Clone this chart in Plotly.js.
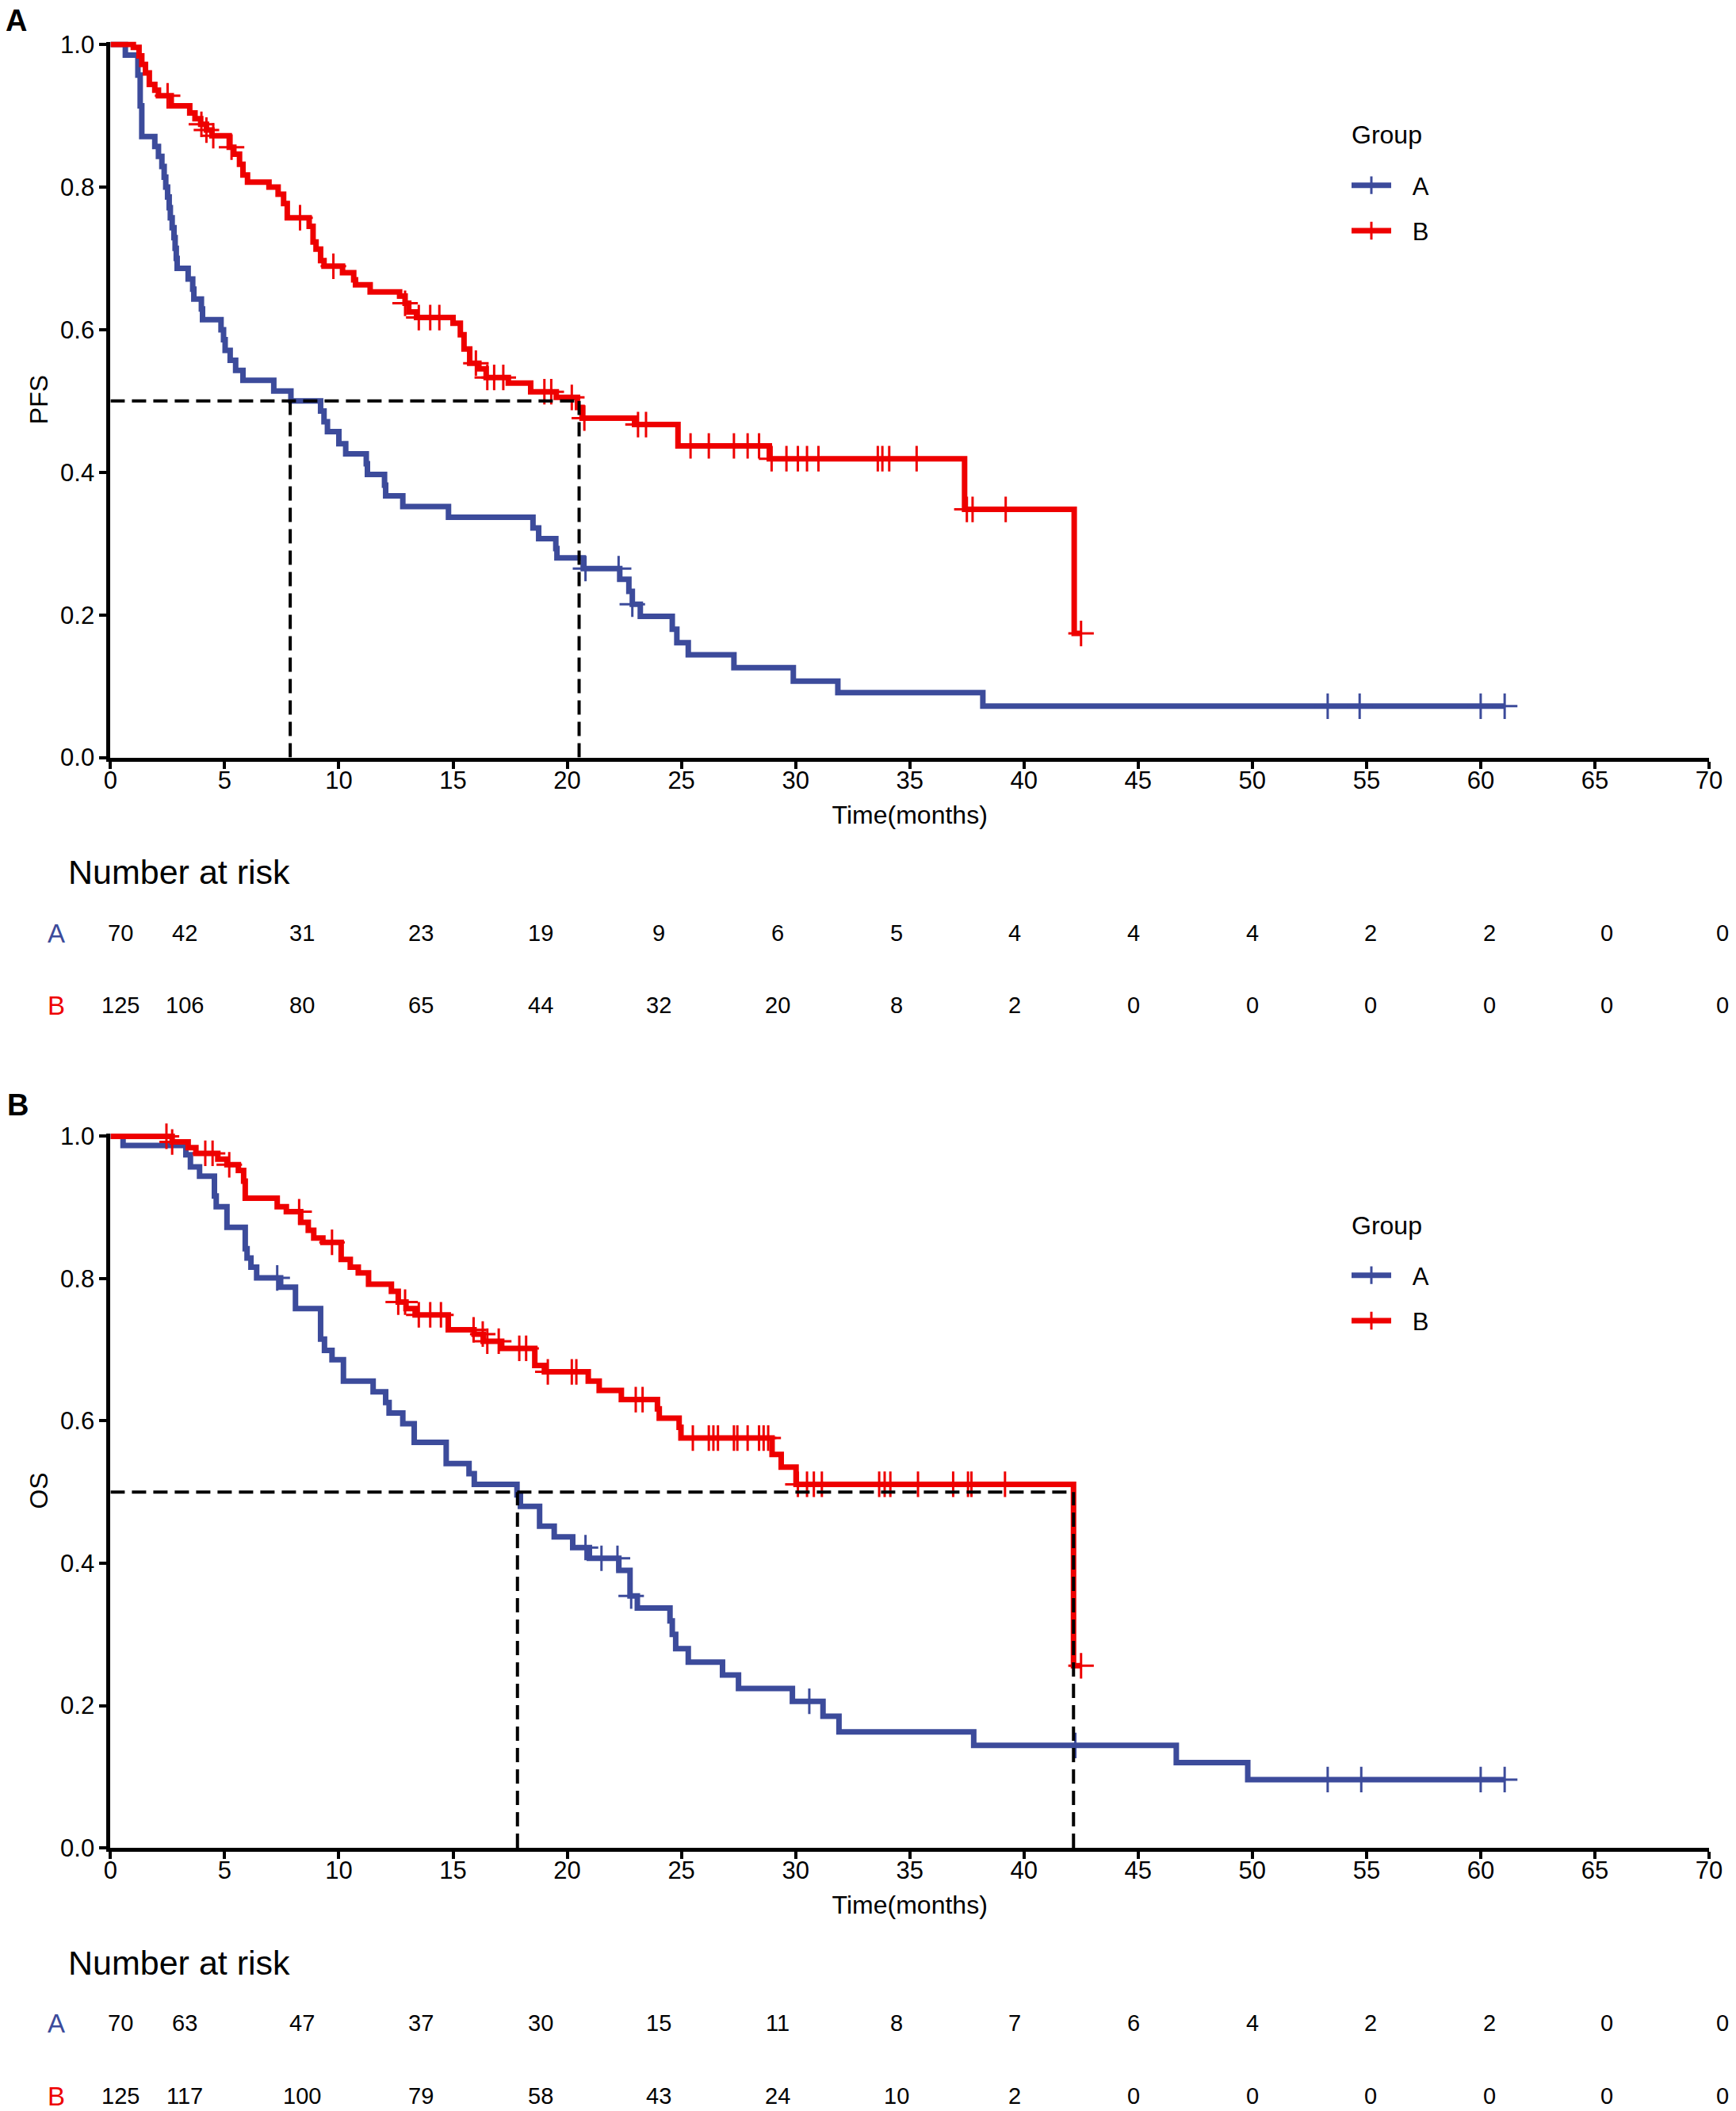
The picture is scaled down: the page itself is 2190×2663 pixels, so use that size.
<!DOCTYPE html>
<html><head><meta charset="utf-8">
<script src="https://cdn.plot.ly/plotly-3.0.1.min.js"></script>
<style>html,body{margin:0;padding:0;background:#fff}#chart{width:2190px;height:2663px}</style>
</head><body><div id="chart"></div>
<script>
// ---------------- DATA ----------------
const groups = ["A", "B"];
const legendTitle = "Group";
const riskHeader = "Number at risk";

// PFS, group A: event times (months) and survival after each event
const pfsA_t = [0.65,1.2,1.3,1.37,1.94,2.1,2.25,2.35,2.42,2.5,2.57,2.62,2.7,2.78,2.83,2.88,2.92,3.4,3.6,3.65,3.98,4.03,4.84,4.95,5.02,5.24,5.48,5.8,7.15,7.9,9.2,9.35,9.5,10.0,10.3,11.2,11.25,12.0,12.05,12.8,14.8,18.5,18.75,19.5,19.55,20.7,22.3,22.7,22.85,23.2,24.6,24.8,25.3,27.3,29.9,31.85,38.2];
const pfsA_s = [0.985,0.957,0.914,0.871,0.857,0.843,0.829,0.814,0.80,0.786,0.771,0.757,0.743,0.729,0.714,0.70,0.686,0.671,0.657,0.643,0.629,0.614,0.60,0.586,0.571,0.557,0.543,0.529,0.514,0.50,0.486,0.471,0.457,0.440,0.426,0.412,0.397,0.382,0.367,0.352,0.337,0.322,0.307,0.293,0.280,0.265,0.250,0.233,0.215,0.198,0.180,0.161,0.144,0.126,0.107,0.091,0.072];
const pfsA_cens = [20.8,22.25,22.85,53.3,54.7,60.0,61.05];

// PFS, group B
const pfsB_t = [1.0,1.25,1.37,1.53,1.7,1.94,2.1,2.66,3.47,3.7,3.95,4.2,4.44,5.2,5.4,5.65,5.8,6.0,6.94,7.34,7.58,7.74,8.7,8.87,9.0,9.2,9.35,10.16,10.65,10.73,11.37,12.66,12.9,13.06,13.4,15.0,15.32,15.48,15.73,16.13,16.45,17.42,18.4,19.52,20.45,20.65,22.95,24.85,28.85,37.4,42.2];
const pfsB_s = [0.996,0.984,0.972,0.96,0.944,0.936,0.928,0.914,0.904,0.896,0.888,0.88,0.872,0.856,0.846,0.832,0.817,0.807,0.80,0.79,0.777,0.757,0.745,0.723,0.713,0.697,0.689,0.68,0.67,0.663,0.653,0.647,0.637,0.625,0.617,0.609,0.593,0.573,0.553,0.545,0.533,0.525,0.513,0.505,0.491,0.476,0.467,0.437,0.419,0.348,0.174];
const pfsB_cens = [2.5,3.98,4.2,4.5,5.3,8.3,9.76,12.9,13.5,14.0,14.4,16.0,16.5,16.8,17.2,19.0,19.3,20.2,20.75,23.1,23.45,25.4,26.2,27.3,27.9,28.4,28.95,29.6,30.1,30.5,31.0,33.6,33.8,34.1,35.3,37.5,37.75,39.2,42.5];

// OS, group A
const osA_t = [0.55,3.3,3.5,3.9,4.55,4.63,5.1,5.9,5.98,6.15,6.4,7.45,8.1,9.2,9.37,9.7,10.2,11.5,12.05,12.2,12.8,13.3,14.7,15.7,15.93,17.8,17.95,18.79,19.43,20.24,20.97,22.26,22.75,23.07,24.5,24.6,24.75,25.3,26.8,27.5,29.86,31.2,31.9,37.8,46.67,49.8];
const osA_s = [0.987,0.974,0.957,0.944,0.916,0.901,0.872,0.842,0.829,0.816,0.801,0.788,0.758,0.715,0.699,0.686,0.656,0.641,0.626,0.611,0.596,0.57,0.54,0.526,0.511,0.496,0.48,0.452,0.437,0.422,0.407,0.39,0.354,0.337,0.319,0.30,0.28,0.261,0.243,0.224,0.206,0.185,0.163,0.144,0.12,0.096];
const osA_cens = [7.3,20.8,21.5,22.2,22.8,30.6,42.25,53.3,54.77,60.0,61.05];

// OS, group B
const osB_t = [2.7,3.4,3.74,4.7,5.1,5.6,5.83,5.9,7.3,7.7,8.33,8.66,8.9,9.3,10.1,10.5,10.85,11.3,12.3,12.6,12.94,13.34,14.79,15.92,16.32,17.13,18.58,19.0,20.92,21.4,22.37,23.95,24.03,24.9,24.98,28.97,29.37,30.02,42.17];
const osB_s = [0.992,0.984,0.976,0.968,0.96,0.952,0.937,0.913,0.901,0.894,0.879,0.868,0.857,0.851,0.827,0.816,0.808,0.792,0.782,0.767,0.758,0.749,0.728,0.722,0.712,0.702,0.678,0.669,0.656,0.643,0.63,0.617,0.604,0.591,0.576,0.553,0.535,0.511,0.256];
const osB_cens = [2.45,2.7,4.15,4.47,5.2,8.26,9.7,12.6,12.9,13.5,14.0,14.47,15.9,16.3,16.5,17.0,17.9,18.2,19.15,20.2,20.4,23.0,23.3,25.5,26.2,26.4,26.6,27.3,27.45,27.9,28.4,28.6,28.8,30.1,30.5,30.8,31.15,33.66,33.9,34.15,35.36,36.9,37.55,37.7,39.17,42.5];

// Median survival times (dashed reference lines)
const pfsMedians = [7.87, 20.52];
const osMedians = [17.82, 42.17];

// Number at risk tables
const riskPFS_A = [70,42,31,23,19,9,6,5,4,4,4,2,2,0,0];
const riskPFS_B = [125,106,80,65,44,32,20,8,2,0,0,0,0,0,0];
const riskOS_A  = [70,63,47,37,30,15,11,8,7,6,4,2,2,0,0];
const riskOS_B  = [125,117,100,79,58,43,24,10,2,0,0,0,0,0,0];

// ---------------- LAYOUT CONSTANTS ----------------
const W = 2190, H = 2663;
const BLUE = "#3C4B9B", RED = "#EE0000";
const FONT = "Liberation Sans, Arial, Helvetica, sans-serif";
const px = v => v / W;           // pixel -> paper x
const py = v => 1 - v / H;       // pixel -> paper y
const riskColsPx = [152,233,381,531,682,831,981,1131,1280,1430,1580,1729,1879,2027,2173];

function stepXY(t, s, cens) {
  const end = Math.max(t[t.length - 1], cens.length ? cens[cens.length - 1] : 0);
  return { x: [0].concat(t, [end]), y: [1].concat(s, [s[s.length - 1]]) };
}
function survAt(t, s, time) {
  let v = 1;
  for (let i = 0; i < t.length; i++) { if (t[i] <= time) v = s[i]; }
  return v;
}

const traces = [];
function addPanel(ax, ay, legendId, curves) {
  curves.forEach(c => {
    const st = stepXY(c.t, c.s, c.cens);
    traces.push({
      x: st.x, y: st.y, xaxis: ax, yaxis: ay, type: "scatter", mode: "lines",
      line: { color: c.color, width: 7, shape: "hv" }, showlegend: false, hoverinfo: "skip"
    });
    traces.push({
      x: c.cens, y: c.cens.map(tt => survAt(c.t, c.s, tt)), xaxis: ax, yaxis: ay,
      type: "scatter", mode: "markers", cliponaxis: false,
      marker: { symbol: "cross-thin", size: 23, color: c.color, line: { color: c.color, width: 3 } },
      showlegend: false, hoverinfo: "skip"
    });
    traces.push({
      x: [null], y: [null], xaxis: ax, yaxis: ay, type: "scatter", mode: "lines+markers",
      name: "\u2002\u2009" + c.name, legend: legendId, legendgroup: legendId + c.name,
      line: { color: c.color, width: 7 },
      marker: { symbol: "cross-thin", size: 16, color: c.color, line: { color: c.color, width: 3 } }
    });
  });
}
addPanel("x", "y", "legend", [
  { name: groups[0], t: pfsA_t, s: pfsA_s, cens: pfsA_cens, color: BLUE },
  { name: groups[1], t: pfsB_t, s: pfsB_s, cens: pfsB_cens, color: RED }
]);
addPanel("x2", "y2", "legend2", [
  { name: groups[0], t: osA_t, s: osA_s, cens: osA_cens, color: BLUE },
  { name: groups[1], t: osB_t, s: osB_s, cens: osB_cens, color: RED }
]);

function xAxis(anchor) {
  return {
    domain: [px(139.4), px(2156)], range: [0, 70], dtick: 5, tick0: 0, anchor: anchor,
    showline: true, linecolor: "#000", linewidth: 5, ticks: "outside", ticklen: 9, tickwidth: 4,
    tickcolor: "#000", showgrid: false, zeroline: false, fixedrange: true, ticklabelstandoff: -12,
    tickfont: { family: FONT, size: 31, color: "#000" },
    title: { text: "Time(months)", font: { family: FONT, size: 32, color: "#000" }, standoff: 17 }
  };
}
function yAxis(top0, bottom0, anchor, title) {
  // top0 = pixel of 1.0, bottom0 = pixel of 0.0
  const per = (bottom0 - top0);
  const topPx = top0 - 0.004 * per;
  return {
    domain: [py(bottom0), py(topPx)], range: [0, 1.004], tickvals: [0, 0.2, 0.4, 0.6, 0.8, 1.0],
    tickformat: ".1f", anchor: anchor,
    showline: true, linecolor: "#000", linewidth: 5, ticks: "outside", ticklen: 9, tickwidth: 4,
    tickcolor: "#000", showgrid: false, zeroline: false, fixedrange: true,
    tickfont: { family: FONT, size: 31, color: "#000" },
    title: { text: title, font: { family: FONT, size: 32, color: "#000" }, standoff: 7 }
  };
}

const shapes = [];
function medianShapes(xr, yr, meds) {
  const dash = { color: "#000", width: 4, dash: "18px,9px" };
  const maxMed = Math.max.apply(null, meds);
  shapes.push({ type: "line", xref: xr, yref: yr, x0: 0, x1: maxMed, y0: 0.5, y1: 0.5, line: dash, layer: "above" });
  meds.forEach(m => shapes.push({ type: "line", xref: xr, yref: yr, x0: m, x1: m, y0: 0, y1: 0.5, line: dash, layer: "above" }));
}
medianShapes("x", "y", pfsMedians);
medianShapes("x2", "y2", osMedians);

const annotations = [];
function txt(text, xPx, yPx, size, color, opts) {
  annotations.push(Object.assign({
    text: text, x: px(xPx), y: py(yPx), xref: "paper", yref: "paper", showarrow: false,
    xanchor: "center", yanchor: "middle", font: { family: FONT, size: size, color: color || "#000" }
  }, opts || {}));
}
txt("<b>A</b>", 20, 26, 38);
txt("<b>B</b>", 22, 1394, 38);
txt(legendTitle, 1703, 170, 32, "#000", { xanchor: "left" });
txt(legendTitle, 1703, 1546, 32, "#000", { xanchor: "left" });

function riskTable(headerY, rowAY, rowBY, valsA, valsB) {
  txt(riskHeader, 84, headerY, 43, "#000", { xanchor: "left" });
  txt(groups[0], 71, rowAY, 33, BLUE);
  txt(groups[1], 71, rowBY, 33, RED);
  valsA.forEach((v, i) => txt(String(v), riskColsPx[i], rowAY, 29));
  valsB.forEach((v, i) => txt(String(v), riskColsPx[i], rowBY, 29));
}
riskTable(1100, 1177, 1268, riskPFS_A, riskPFS_B);
riskTable(2476, 2552, 2644, riskOS_A, riskOS_B);

function legendCfg(firstItemPx) {
  return {
    x: px(1700), y: py(firstItemPx - 28), xanchor: "left", yanchor: "top", bgcolor: "rgba(0,0,0,0)",
    borderwidth: 0, traceorder: "grouped", tracegroupgap: 14, itemwidth: 50,
    font: { family: FONT, size: 31, color: "#000" }
  };
}

const layout = {
  width: W, height: H, margin: { l: 0, r: 0, t: 0, b: 0 },
  paper_bgcolor: "#fff", plot_bgcolor: "#fff", showlegend: true,
  xaxis: xAxis("y"), yaxis: yAxis(56.1, 955.6, "x", "PFS"),
  xaxis2: xAxis("y2"), yaxis2: yAxis(1433.4, 2331.1, "x2", "OS"),
  legend: legendCfg(235), legend2: legendCfg(1610),
  shapes: shapes, annotations: annotations
};

Plotly.newPlot("chart", traces, layout, { staticPlot: true, displayModeBar: false });
</script></body></html>
